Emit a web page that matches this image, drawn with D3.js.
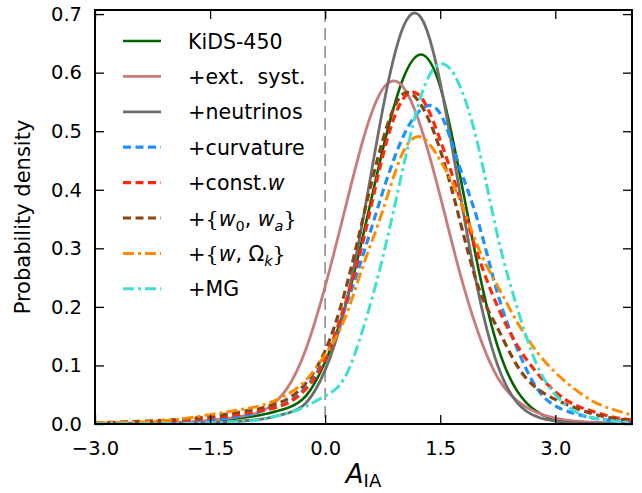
<!DOCTYPE html>
<html>
<head>
<meta charset="utf-8">
<script src="https://cdn.jsdelivr.net/npm/d3@7"></script>
<style>
  html, body { margin: 0; padding: 0; background: #fff; }
  svg { display: block; }
  text { font-family: "DejaVu Sans", sans-serif; fill: #000; }
</style>
</head>
<body>
<div id="chart"></div>
<script>
// ---- data ----
const xGrid = [-3, -2.5, -2, -1.5, -1, -0.75, -0.5, -0.25, 0, 0.25, 0.5, 0.75, 1, 1.25, 1.5, 1.75, 2, 2.25, 2.5, 2.75, 3, 3.25, 3.5, 3.75, 4];

const kids450   = [0.0005,0.001,0.002,0.005,0.012,0.018,0.027,0.048,0.106,0.196,0.325,0.468,0.584,0.631,0.576,0.430,0.264,0.132,0.057,0.022,0.008,0.004,0.002,0.001,0.0005];
const extSyst   = [0.001,0.0015,0.003,0.006,0.015,0.027,0.060,0.128,0.235,0.362,0.488,0.572,0.578,0.506,0.389,0.261,0.154,0.079,0.040,0.020,0.010,0.005,0.003,0.0015,0.001];
const neutrinos = [0.0003,0.0005,0.001,0.002,0.006,0.010,0.018,0.036,0.092,0.194,0.354,0.537,0.672,0.694,0.583,0.400,0.223,0.100,0.037,0.013,0.005,0.002,0.001,0.0005,0.0003];
const curvature = [0.001,0.002,0.004,0.007,0.016,0.025,0.036,0.063,0.113,0.194,0.291,0.396,0.486,0.537,0.530,0.440,0.343,0.222,0.130,0.063,0.031,0.018,0.010,0.006,0.004];
const constW    = [0.002,0.003,0.005,0.010,0.019,0.025,0.035,0.060,0.110,0.200,0.315,0.457,0.552,0.558,0.485,0.388,0.285,0.200,0.135,0.089,0.055,0.033,0.021,0.012,0.007];
const w0wa      = [0.002,0.004,0.007,0.013,0.023,0.030,0.042,0.070,0.125,0.222,0.355,0.484,0.562,0.545,0.468,0.351,0.233,0.163,0.100,0.062,0.042,0.028,0.017,0.010,0.006];
const wOmegaK   = [0.002,0.003,0.007,0.016,0.027,0.035,0.050,0.075,0.118,0.178,0.272,0.364,0.460,0.490,0.450,0.385,0.300,0.235,0.175,0.125,0.088,0.060,0.038,0.025,0.015];
const mg        = [0.0003,0.0005,0.001,0.002,0.005,0.010,0.018,0.030,0.048,0.078,0.165,0.284,0.428,0.560,0.615,0.579,0.472,0.320,0.200,0.104,0.050,0.022,0.010,0.005,0.003];

const xTicks = [-3, -1.5, 0, 1.5, 3];
const yTicks = [0, 0.1, 0.2, 0.3, 0.4, 0.5, 0.6, 0.7];
const xDomain = [-3, 4];
const yDomain = [0, 0.707];

const seriesNames = ["KiDS-450", "+ext. syst.", "+neutrinos", "+curvature", "+const.w", "+{w0,wa}", "+{w,Ωk}", "+MG"];
const seriesValues = [kids450, extSyst, neutrinos, curvature, constW, w0wa, wOmegaK, mg];
const seriesColors = ["#006400", "#c97b7b", "#6e6e6e", "#1e90ff", "#ff2a0a", "#8b4513", "#ff8c00", "#40e0d0"];
const seriesDash   = ["", "", "", "8,4.5", "8,4.5", "8,4.5", "11,4,3,4", "11,4,3,4"];
const seriesWidth  = [2.6, 2.8, 2.8, 3.2, 3.2, 3.2, 3, 3];

// legend label pieces: [text, style]  (p = plus sign, b = brace, i = italic, s = subscript, si = italic subscript)
const legendLabels = [
  [["KiDS-450", ""]],
  [["+", "p"], ["ext.  syst.", ""]],
  [["+", "p"], ["neutrinos", ""]],
  [["+", "p"], ["curvature", ""]],
  [["+", "p"], ["const.", ""], ["w", "i"]],
  [["+", "p"], ["{", "b"], ["w", "i"], ["0", "s"], [", ", ""], ["w", "i"], ["a", "si"], ["}", "b"]],
  [["+", "p"], ["{", "b"], ["w", "i"], [", Ω", ""], ["k", "si"], ["}", "b"]],
  [["+", "p"], ["MG", ""]]
];

// ---- layout ----
const W = 642, H = 493;
const M = { left: 95, right: 632, top: 10, bottom: 424 };

const svg = d3.select("#chart").append("svg").attr("width", W).attr("height", H);

const x = d3.scaleLinear().domain(xDomain).range([M.left, M.right]);
const y = d3.scaleLinear().domain(yDomain).range([M.bottom, M.top]);

svg.append("defs").append("clipPath").attr("id", "clip")
  .append("rect").attr("x", M.left).attr("y", M.top)
  .attr("width", M.right - M.left).attr("height", M.bottom - M.top);

// vertical dashed line at zero
svg.append("line")
  .attr("x1", x(0)).attr("x2", x(0)).attr("y1", y(yDomain[1])).attr("y2", y(0))
  .attr("stroke", "#888").attr("stroke-width", 1.5).attr("stroke-dasharray", "12,6");

// curves
const line = d3.line().x(d => x(d[0])).y(d => y(d[1])).curve(d3.curveNatural);
const gCurves = svg.append("g").attr("clip-path", "url(#clip)");
seriesValues.forEach((vals, i) => {
  const pts = xGrid.map((xv, k) => [xv, vals[k]]);
  gCurves.append("path").datum(pts)
    .attr("d", line)
    .attr("fill", "none")
    .attr("stroke", seriesColors[i])
    .attr("stroke-width", seriesWidth[i])
    .attr("stroke-dasharray", seriesDash[i] || null)
    .attr("stroke-linejoin", "round");
});

// axes (inward ticks on all sides)
const fmt = d3.format(".1f");
const tickLen = 9;
function styleAxis(g) {
  g.select(".domain").remove();
  g.selectAll(".tick line").attr("stroke", "#000").attr("stroke-width", 1.3);
  g.selectAll(".tick text").style("font-size", "19.5px").style("font-family", "DejaVu Sans, sans-serif");
}
svg.append("g").attr("transform", `translate(0,${M.bottom})`)
  .call(d3.axisBottom(x).tickValues(xTicks).tickFormat(fmt).tickSizeInner(-tickLen).tickSizeOuter(0).tickPadding(17))
  .call(styleAxis);
svg.append("g").attr("transform", `translate(0,${M.top})`)
  .call(d3.axisTop(x).tickValues(xTicks).tickFormat("").tickSizeInner(-tickLen).tickSizeOuter(0))
  .call(styleAxis);
svg.append("g").attr("transform", `translate(${M.left},0)`)
  .call(d3.axisLeft(y).tickValues(yTicks).tickFormat(fmt).tickSizeInner(-tickLen).tickSizeOuter(0).tickPadding(13))
  .call(styleAxis);
svg.append("g").attr("transform", `translate(${M.right},0)`)
  .call(d3.axisRight(y).tickValues(yTicks).tickFormat("").tickSizeInner(-tickLen).tickSizeOuter(0))
  .call(styleAxis);

// frame
svg.append("rect")
  .attr("x", M.left).attr("y", M.top)
  .attr("width", M.right - M.left).attr("height", M.bottom - M.top)
  .attr("fill", "none").attr("stroke", "#000").attr("stroke-width", 2);

// axis labels
svg.append("text")
  .attr("transform", `translate(30,${(M.top + M.bottom) / 2}) rotate(-90)`)
  .attr("text-anchor", "middle")
  .style("font-size", "21px")
  .text("Probability density");

const xl = svg.append("text").attr("x", (M.left + M.right) / 2).attr("y", 483).attr("text-anchor", "middle");
xl.append("tspan").style("font-style", "italic").style("font-size", "26px").text("A");
xl.append("tspan").style("font-size", "18px").attr("dy", 4).text("IA");

// legend
const legX0 = 123, legX1 = 161, legTextX = 188, legY0 = 41, legDY = 35.4;
const legend = svg.append("g");
legendLabels.forEach((parts, i) => {
  const yy = legY0 + i * legDY;
  legend.append("line")
    .attr("x1", legX0).attr("x2", legX1).attr("y1", yy).attr("y2", yy)
    .attr("stroke", seriesColors[i]).attr("stroke-width", seriesWidth[i])
    .attr("stroke-dasharray", seriesDash[i] || null);
  const t = legend.append("text").attr("x", legTextX).attr("y", yy + 7.5).style("font-size", "20.5px")
    .attr("xml:space", "preserve").style("white-space", "pre");
  let shifted = 0;
  parts.forEach(([txt, st]) => {
    const ts = t.append("tspan").text(txt);
    if (st === "p") ts.style("font-family", "DejaVu Serif, serif").style("font-size", "21px");
    if (st === "b") ts.style("font-family", "DejaVu Serif, serif").style("font-weight", "normal");
    if (st === "i") ts.style("font-style", "italic");
    if (st === "s" || st === "si") {
      ts.style("font-size", "14.5px").attr("dy", 5 - shifted);
      shifted = 5;
      if (st === "si") ts.style("font-style", "italic");
    } else if (shifted) {
      ts.attr("dy", -shifted);
      shifted = 0;
    }
  });
});
</script>
</body>
</html>
